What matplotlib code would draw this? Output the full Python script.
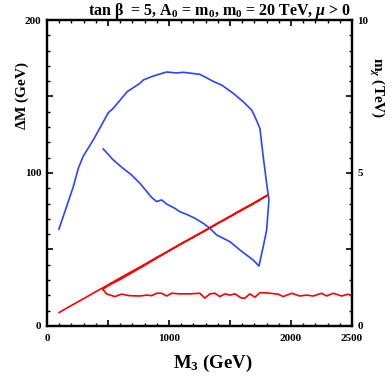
import matplotlib
matplotlib.use("Agg")
import matplotlib.pyplot as plt
from matplotlib.ticker import FixedLocator, FixedFormatter, MultipleLocator

plt.rcParams['font.family'] = ['Liberation Serif', 'DejaVu Serif']
plt.rcParams['font.weight'] = 'bold'
plt.rcParams['mathtext.fontset'] = 'custom'
plt.rcParams['mathtext.rm'] = 'Liberation Serif:bold'
plt.rcParams['mathtext.bf'] = 'Liberation Serif:bold'
plt.rcParams['mathtext.it'] = 'Liberation Serif:bold:italic'

# Blue curve: Delta M (GeV) vs M3 (GeV)
blue_m3 = [98, 161, 216, 257, 298, 380, 448, 503, 544, 659, 762, 790, 872, 926, 981,
           1063, 1118, 1254, 1363, 1432, 1527, 1609, 1678, 1705, 1746, 1773, 1801, 1820,
           1801, 1773, 1738, 1691, 1582, 1500, 1391, 1336, 1281, 1213, 1158, 1090, 1049,
           981, 940, 899, 858, 762, 694, 625, 544, 462]
blue_dm = [63.2, 78, 91, 103, 111, 121.6, 131.4, 139.4, 142.3, 153.2, 158.6, 160.8, 163.4,
           164.7, 166, 165.4, 165.8, 164.5, 159.9, 157.5, 152.1, 146.6, 141.2, 136.8, 129.2,
           110.7, 93.3, 82.4, 62.7, 51.8, 39.2, 43.1, 49.7, 55.1, 59.5, 63.9, 67.1, 70.4,
           72.5, 74.7, 76.9, 79.7, 82.4, 81.3, 84.1, 93.3, 98.7, 103, 108.5, 115.7]

# Red curve: m_chi (TeV) vs M3 (GeV)
red_m3 = [100, 200, 300, 400, 500, 600, 700, 800, 900, 1000, 1100, 1200, 1300, 1400,
          1500, 1600, 1700, 1811,
          1700, 1600, 1500, 1400, 1300, 1200, 1100, 1000, 900, 800, 700, 600, 520, 457,
          489, 557, 612, 680, 762, 817, 858, 899, 940, 981, 1022, 1090, 1172, 1254, 1295,
          1336, 1377, 1418, 1459, 1500, 1541, 1596, 1623, 1664, 1705, 1746, 1828, 1896,
          1937, 2006, 2074, 2129, 2183, 2252, 2293, 2347, 2416, 2470, 2500]
red_mchi = [0.44, 0.67, 0.89, 1.12, 1.34, 1.57, 1.79, 2.01, 2.24, 2.46, 2.69, 2.91, 3.13,
            3.36, 3.58, 3.81, 4.03, 4.28,
            4.01, 3.79, 3.57, 3.35, 3.12, 2.90, 2.68, 2.45, 2.22, 1.98, 1.75, 1.52, 1.36, 1.20,
            1.05, 0.96, 1.04, 0.99, 0.98, 1.01, 0.99, 1.07, 1.07, 0.98, 1.07, 1.05, 1.05,
            1.07, 0.91, 1.05, 1.07, 0.96, 1.05, 1.01, 1.05, 0.91, 0.91, 1.05, 0.94, 1.09,
            1.07, 1.04, 0.96, 1.07, 0.98, 1.01, 0.98, 1.07, 0.98, 1.07, 0.98, 1.04, 0.98]

x_ticks = [0, 500, 1000, 1500, 2000, 2500]
x_labels = ['0', '', '1000', '', '2000', '2500']
yl_ticks = [0, 50, 100, 150, 200]
yl_labels = ['0', '', '100', '', '200']
yr_ticks = [0, 2.5, 5, 7.5, 10]
yr_labels = ['0', '', '5', '', '10']

fig = plt.figure(figsize=(3.91, 3.81), dpi=100)
ax = fig.add_axes([0.120, 0.1444, 0.780, 0.8031])
ax2 = ax.twinx()

ax.plot(blue_m3, blue_dm, color='#2a44ff', lw=1.2, solid_joinstyle='round')
ax2.plot(red_m3, red_mchi, color='#ff0000', lw=1.2, solid_joinstyle='round')

ax.set_xlim(0, 2500)
ax.set_ylim(0, 200)
ax2.set_ylim(0, 10)

ax.xaxis.set_major_locator(FixedLocator(x_ticks))
ax.xaxis.set_major_formatter(FixedFormatter(x_labels))
ax.xaxis.set_minor_locator(MultipleLocator(100))
ax.yaxis.set_major_locator(FixedLocator(yl_ticks))
ax.yaxis.set_major_formatter(FixedFormatter(yl_labels))
ax.yaxis.set_minor_locator(MultipleLocator(10))
ax2.yaxis.set_major_locator(FixedLocator(yr_ticks))
ax2.yaxis.set_major_formatter(FixedFormatter(yr_labels))
ax2.yaxis.set_minor_locator(MultipleLocator(0.5))

ax.tick_params(axis='x', which='both', direction='in', top=True, bottom=True,
               labelsize=8, pad=6)
ax.tick_params(axis='y', which='both', direction='in', left=True, right=False,
               labelsize=8, pad=4)
ax.tick_params(which='major', length=4, width=1.2)
ax.tick_params(which='minor', length=2.5, width=1.0)
ax2.tick_params(axis='y', which='both', direction='in', labelsize=8, pad=4)
ax2.tick_params(which='major', length=4, width=1.2)
ax2.tick_params(which='minor', length=2.5, width=1.0)
for lab in ax.get_xticklabels() + ax.get_yticklabels() + ax2.get_yticklabels():
    lab.set_fontweight('bold')

for a in (ax, ax2):
    for s in a.spines.values():
        s.set_linewidth(1.6)

fig.text(0.545, 0.045, r'M$_3$ (GeV)', ha='center', va='center', fontsize=13.5,
         fontweight='bold')
fig.text(0.058, 0.748, r'$\Delta$M (GeV)', ha='center', va='center', fontsize=11,
         fontweight='bold', rotation=90)
fig.text(0.962, 0.77, r'm$_\chi$ (TeV)', ha='center', va='center', fontsize=11,
         fontweight='bold', rotation=270)
fig.text(0.900, 0.972, r'tan β  = 5, A$_0$ = m$_0$, m$_0$ = 20 TeV, $\mu$ > 0',
         ha='right', va='center', fontsize=11.5, fontweight='bold')

fig.savefig('out.png', dpi=100)
